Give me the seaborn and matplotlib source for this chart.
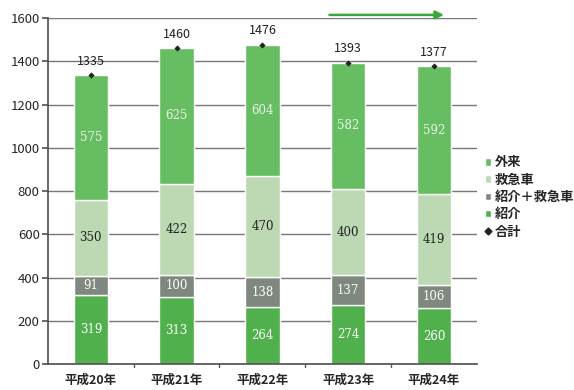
import matplotlib
matplotlib.use("Agg")
import matplotlib.pyplot as plt
import seaborn as sns
import numpy as np
import pandas as pd
from matplotlib.patches import Patch
from matplotlib.lines import Line2D

categories = ["平成20年", "平成21年", "平成22年", "平成23年", "平成24年"]
shokai = [319, 313, 264, 274, 260]
shokai_kyukyu = [91, 100, 138, 137, 106]
kyukyu = [350, 422, 470, 400, 419]
gairai = [575, 625, 604, 582, 592]
totals = [1335, 1460, 1476, 1393, 1377]
yticks = [0, 200, 400, 600, 800, 1000, 1200, 1400, 1600]

sns.set_theme(style="white")
plt.rcParams['font.family'] = ['Noto Sans CJK JP', 'DejaVu Sans']

fig = plt.figure(figsize=(5.74, 3.90), dpi=100)
ax = fig.add_axes([0.0836, 0.066, 0.747, 0.888])

series = [
    ("紹介", shokai, "#4fb04c", "white"),
    ("紹介＋救急車", shokai_kyukyu, "#7f887e", "white"),
    ("救急車", kyukyu, "#bcd9b3", "#222222"),
    ("外来", gairai, "#66bd62", "#e8f5e6"),
]

bottom = np.zeros(len(categories))
for name, vals, col, tcol in series:
    df = pd.DataFrame({"cat": categories, "val": vals})
    sns.barplot(data=df, x="cat", y="val", bottom=bottom, color=col,
                width=0.4, ax=ax, saturation=1, zorder=2)
    for i, v in enumerate(vals):
        ax.text(i, bottom[i] + v / 2, str(v), ha="center", va="center",
                fontsize=8.5, color=tcol, zorder=4, family="DejaVu Serif")
    bottom = bottom + np.array(vals)

tdf = pd.DataFrame({"cat": categories, "val": totals})
sns.scatterplot(data=tdf, x="cat", y="val", marker="D", color="#222222",
                s=10, ax=ax, zorder=5, linewidth=0)
for i, v in enumerate(totals):
    ax.text(i, v + 35, str(v), ha="center", va="bottom", fontsize=9,
            color="#222222", zorder=5)

ax.set_ylim(0, 1600)
ax.set_xlim(-0.5, 4.5)
ax.set_yticks(yticks)
ax.set_yticklabels([str(t) for t in yticks], fontsize=9.5)
ax.yaxis.grid(True, color="#777777", linewidth=1.0, zorder=0)
ax.set_axisbelow(True)
ax.set_xlabel("")
ax.set_ylabel("")
for lbl in ax.get_xticklabels():
    lbl.set_fontsize(9)
    lbl.set_fontweight("bold")
for s in ["top", "right"]:
    ax.spines[s].set_visible(False)
ax.spines["left"].set_color("#555555")
ax.spines["bottom"].set_color("#555555")
ax.tick_params(axis="y", left=True, length=4, color="#555555", pad=2)
ax.tick_params(axis="x", bottom=False, pad=1)
for xb in [0.5, 1.5, 2.5, 3.5]:
    ax.plot([xb, xb], [0, -12], color="#555555", lw=1, clip_on=False)

ax.annotate("", xy=(4.15, 1614), xytext=(2.75, 1614),
            arrowprops=dict(arrowstyle="-|>", color="#3aa63a", lw=1.8,
                            mutation_scale=12),
            annotation_clip=False)

handles = [
    Patch(facecolor="#66bd62", label="外来"),
    Patch(facecolor="#bcd9b3", label="救急車"),
    Patch(facecolor="#7f887e", label="紹介＋救急車"),
    Patch(facecolor="#4fb04c", label="紹介"),
    Line2D([], [], marker="D", color="#222222", linestyle="none",
           markersize=3.5, label="合計"),
]
leg = fig.legend(handles=handles, loc="upper left",
                 bbox_to_anchor=(0.835, 0.615), frameon=False,
                 fontsize=9.5, handlelength=0.5, handleheight=0.5,
                 handletextpad=0.3, labelspacing=0.25, borderaxespad=0)
for t in leg.get_texts():
    t.set_fontweight("bold")

fig.savefig("out.png", dpi=100)
